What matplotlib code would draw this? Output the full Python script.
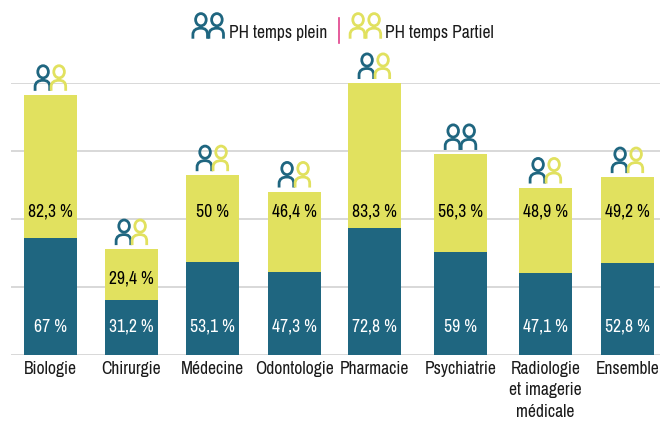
import matplotlib
matplotlib.use("Agg")
import matplotlib.pyplot as plt
import numpy as np
from matplotlib.patches import Ellipse, PathPatch
from matplotlib.path import Path

CATEGORIES = ["Biologie", "Chirurgie", "Médecine", "Odontologie", "Pharmacie",
              "Psychiatrie", "Radiologie\net imagerie\nmédicale", "Ensemble"]
TEMPS_PLEIN = [67, 31.2, 53.1, 47.3, 72.8, 59, 47.1, 52.8]
TEMPS_PARTIEL = [82.3, 29.4, 50, 46.4, 83.3, 56.3, 48.9, 49.2]
LABELS_PLEIN = ["67 %", "31,2 %", "53,1 %", "47,3 %", "72,8 %", "59 %", "47,1 %", "52,8 %"]
LABELS_PARTIEL = ["82,3 %", "29,4 %", "50 %", "46,4 %", "83,3 %", "56,3 %", "48,9 %", "49,2 %"]

BLUE = "#1F6680"
YELLOW = "#E1E15F"
GRID = "#D2D2D2"
PINK = "#E0408A"
TEXT = "#1A1A1A"
W, H = 660, 421
FONT = ["Archivo Narrow", "Liberation Sans"]

plt.rcParams["font.family"] = FONT
plt.rcParams["font.size"] = 12.6

# the columns are not quite evenly spaced in the original
SLOT_NUDGE = [0, -0.017, -0.035, -0.04, -0.07, -0.025, 0.005, 0]
# the part-time labels sit on a common line, except Chirurgie
LABEL_Y_PLEIN = 16
LABEL_Y_PARTIEL = 82
LABEL_Y_PARTIEL_LOW = 43.5


def draw_person(ov, x0, bottom, color):
    """One person outline, 17 px wide and 26 px tall, in pixel coordinates."""
    top = bottom - 26
    ov.add_patch(Ellipse((x0 + 9.2, top + 7), 10.6, 12.2, fill=False, ec=color, lw=2.0))
    verts = [(x0 + 1.2, bottom), (x0 + 1.2, bottom - 4),
             (x0 + 1.2, bottom - 8.5), (x0 + 4.5, bottom - 10.5), (x0 + 9, bottom - 10.5),
             (x0 + 13.5, bottom - 10.5), (x0 + 15.8, bottom - 8.5), (x0 + 15.8, bottom - 4),
             (x0 + 15.8, bottom)]
    codes = [Path.MOVETO, Path.LINETO, Path.CURVE4, Path.CURVE4, Path.CURVE4,
             Path.CURVE4, Path.CURVE4, Path.CURVE4, Path.LINETO]
    ov.add_patch(PathPatch(Path(verts, codes), fill=False, ec=color, lw=2.0, capstyle="butt"))


def draw_pair(ov, xc, bottom, left_color, right_color):
    draw_person(ov, xc - 16.6, bottom, left_color)
    draw_person(ov, xc - 0.6, bottom, right_color)


plein = np.array(TEMPS_PLEIN)
partiel = np.array(TEMPS_PARTIEL)
total = plein + partiel
x = np.arange(len(CATEGORIES)) + np.array(SLOT_NUDGE)

fig = plt.figure(figsize=(W / 100, H / 100), dpi=100, facecolor="white")
ax = fig.add_axes([11 / W, 1 - 354.5 / H, (W - 11) / W, 271.5 / H])

ax.bar(x, plein, width=0.643, color=BLUE, zorder=2)
ax.bar(x, partiel, width=0.643, bottom=plein, color=YELLOW, zorder=2)

ax.set_xlim(-0.479, 7.394)
ax.set_ylim(0, total.max())
ax.set_yticks(np.linspace(0, total.max(), 5))
ax.set_yticklabels([])
ax.set_xticks(x)
ax.set_xticklabels(CATEGORIES, color=TEXT, linespacing=1.42)
ax.tick_params(axis="both", length=0)
ax.tick_params(axis="x", pad=4.5)
ax.yaxis.grid(True, color=GRID, linewidth=1.2)
ax.set_axisbelow(True)
for spine in ax.spines.values():
    spine.set_visible(False)

for i in range(len(CATEGORIES)):
    ax.text(x[i], LABEL_Y_PLEIN, LABELS_PLEIN[i], color="white", ha="center", va="center", zorder=3)
    y = LABEL_Y_PARTIEL_LOW if total[i] < LABEL_Y_PARTIEL else LABEL_Y_PARTIEL
    ax.text(x[i], y, LABELS_PARTIEL[i], color="black", ha="center", va="center", zorder=3)

# icons and legend go on an overlay in pixel coordinates
ov = fig.add_axes([0, 0, 1, 1], facecolor="none")
ov.set_xlim(0, W)
ov.set_ylim(H, 0)
ov.axis("off")

for i in range(len(CATEGORIES)):
    px, py = ax.transData.transform((x[i], total[i]))
    right = BLUE if CATEGORIES[i] == "Psychiatrie" else YELLOW
    draw_pair(ov, px, H - py - 4, BLUE, right)

draw_pair(ov, 208.3, 38.7, BLUE, BLUE)
ov.text(229, 33, "PH temps plein", color=TEXT, ha="left", va="center")
ov.plot([339, 339], [18, 43], color=PINK, lw=1.2)
draw_pair(ov, 365.5, 38.7, YELLOW, YELLOW)
ov.text(385, 33, "PH temps Partiel", color=TEXT, ha="left", va="center")

fig.savefig("out.png", dpi=100)
